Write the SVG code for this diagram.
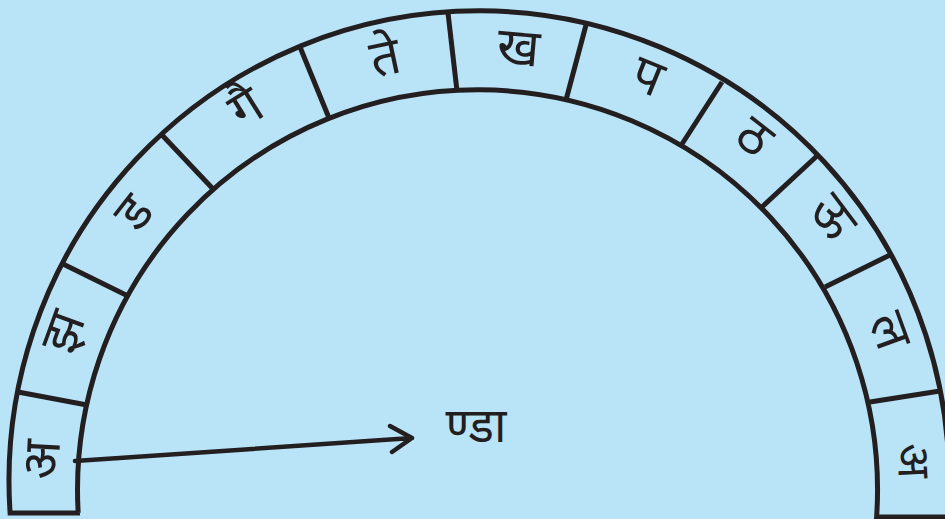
<svg xmlns="http://www.w3.org/2000/svg" width="945" height="519" viewBox="0 0 945 519">
<style>
.bg{fill:#b9e4f8}
.ln{fill:none;stroke:#231f20;stroke-width:5;stroke-linejoin:miter}
.dv{stroke:#231f20;stroke-width:5;fill:none}
.g{font-family:"Noto Sans Devanagari","Noto Sans","Lohit Devanagari","FreeSans",sans-serif;font-size:52px;fill:#231f20;text-anchor:middle;dominant-baseline:central}
.a{font-size:48px}
.e{font-size:46px}
.ar{fill:none;stroke:#231f20;stroke-width:4.5;stroke-linecap:round;stroke-linejoin:round}
</style>
<rect class="bg" x="0" y="0" width="945" height="519"/>
<g id="dial">
<path class="ln" d="M 80 513 L 10.1 513 A 470 470 0 1 1 947.6 517 L 876.6 517 A 400 400 0 1 0 78.2 513 Z"/>
</g>
<g id="connectors">
<line class="dv" x1="18" y1="392" x2="87" y2="405"/>
<line class="dv" x1="61" y1="263" x2="128" y2="296"/>
<line class="dv" x1="162" y1="135" x2="214" y2="190"/>
<line class="dv" x1="300" y1="47" x2="329" y2="118"/>
<line class="dv" x1="448" y1="13" x2="457" y2="91"/>
<line class="dv" x1="586" y1="25" x2="566" y2="100"/>
<line class="dv" x1="722" y1="82" x2="682" y2="144"/>
<line class="dv" x1="818" y1="155" x2="762" y2="207"/>
<line class="dv" x1="892" y1="254" x2="825" y2="287"/>
<line class="dv" x1="940" y1="391" x2="870" y2="402"/>
<path class="ar" d="M 75 461 L 412 438 M 390 426 L 412 438 L 392 452"/>
</g>
<g id="s1"><text class="g" transform="translate(46,460) rotate(-87)">अ</text></g>
<g id="s2"><text class="g" transform="translate(67,333) rotate(-70)">झ</text></g>
<g id="s3"><text class="g" transform="translate(137,215) rotate(-52)">ड</text></g>
<g id="s4"><text class="g" transform="translate(248,111) rotate(-32)">गै</text></g>
<g id="s5"><text class="g" transform="translate(386,62) rotate(-12)">ते</text></g>
<g id="s6"><text class="g" transform="translate(518,52) rotate(5)">ख</text></g>
<g id="s7"><text class="g" transform="translate(646,80) rotate(22)">प</text></g>
<g id="s8"><text class="g" transform="translate(752,140) rotate(38)">ठ</text></g>
<g id="s9"><text class="g" transform="translate(830,219) rotate(53)">ऊ</text></g>
<g id="s10"><text class="g" transform="translate(886,332) rotate(70)">ल</text></g>
<g id="s11"><text class="g e" transform="translate(909,461) rotate(87)">अ</text></g>
<g id="answer"><text class="g a" x="476" y="430">ण्डा</text></g>
</svg>
